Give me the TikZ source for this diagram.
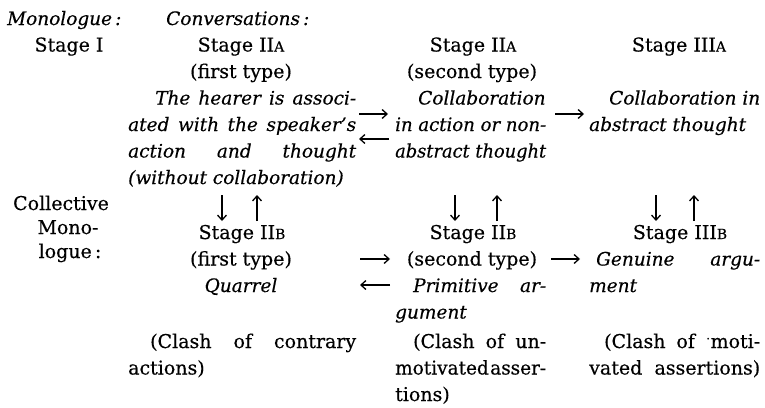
\documentclass[tikz,border=0pt]{standalone}
\usepackage{fontspec}
\usepackage{graphicx}
\setmainfont{DejaVu Serif}[UprightFeatures={FakeBold=0.4},ItalicFeatures={FakeBold=0.4}]
\usetikzlibrary{arrows.meta}
\newcommand\smA{{\fontsize{14}{14}\selectfont A}}
\newcommand\smB{{\fontsize{14}{14}\selectfont B}}
\newlength\fitlen
\newcommand\fitw[2]{\settowidth\fitlen{#2}\ifdim\fitlen>#1pt\resizebox{#1pt}{\height}{#2}\else\makebox[#1pt][s]{#2}\fi}
\tikzset{
  txt/.style={anchor=base west, inner sep=0pt, font=\fontsize{19}{23}\selectfont},
  itx/.style={anchor=base west, inner sep=0pt, font=\fontsize{18.5}{22}\selectfont\itshape},
  ctx/.style={anchor=base, inner sep=0pt, font=\fontsize{19}{23}\selectfont},
  citx/.style={anchor=base, inner sep=0pt, font=\fontsize{18.5}{22}\selectfont\itshape},
  arr/.style={line width=1.5pt, -{Straight Barb[length=5pt,width=9pt,line width=1.3pt]}}
}
\begin{document}
\begin{tikzpicture}[x=1pt,y=-1pt]
\useasboundingbox (0,0) rectangle (765,407);
% headings
\node[itx] (mono) at (7,25) {Monologue\,:};
\node[itx] (conv) at (166,25) {Conversations\,:};
% row 1
\node[ctx] (s1) at (69,51.5) {Stage I};
\node[ctx] (s2a) at (241,51.5) {Stage II\smA};
\node[ctx] (s2a2) at (473,51.5) {Stage II\smA};
\node[ctx] (s3a) at (679,51.5) {Stage III\smA};
% row 2
\node[ctx] (ft1) at (241,78) {(first type)};
\node[ctx] (st1) at (472,78) {(second type)};
% column 2 top block
\node[itx] (a1) at (155,104.5) {\fitw{201}{The hearer is associ-}};
\node[itx] (a2) at (128,131) {\fitw{228}{ated with the speaker's}};
\node[itx] (a3) at (128,157.5) {\fitw{228}{action and thought}};
\node[itx] (a4) at (128,184) {(without collaboration)};
% column 3 top block
\node[itx] (b1) at (418,104.5) {Collaboration};
\node[itx] (b2) at (395,131) {\fitw{151}{in action or non-}};
\node[itx] (b3) at (395,157.5) {\fitw{151}{abstract thought}};
% column 4 top block
\node[itx] (c1) at (609,104.5) {\fitw{151}{Collaboration in}};
\node[itx] (c2) at (589,131) {abstract thought};
% collective monologue
\node[ctx] (cm1) at (61,210) {Collective};
\node[ctx] (cm2) at (68,234) {Mono-};
\node[ctx] (cm3) at (70,258) {logue\,:};
% row 8
\node[ctx] (s2b) at (242,239) {Stage II\smB};
\node[ctx] (s2b2) at (473,239) {Stage II\smB};
\node[ctx] (s3b) at (680,239) {Stage III\smB};
% rows 9-11
\node[ctx] (ft2) at (241,265.5) {(first type)};
\node[ctx] (st2) at (472,265.5) {(second type)};
\node[itx] (g1) at (596,265.5) {\fitw{164}{Genuine argu-}};
\node[citx] (q) at (241,292) {Quarrel};
\node[itx] (p1) at (413,292) {\fitw{133}{Primitive ar-}};
\node[itx] (g2) at (589,292) {ment};
\node[itx] (p2) at (395,318.5) {gument};
% rows 12-14
\node[txt] (k1) at (150,348) {\fitw{206}{(Clash of contrary}};
\node[txt] (k2) at (128,374.5) {actions)};
\node[txt] (l1) at (413,348) {\fitw{133}{(Clash of un-}};
\node[txt] (l2) at (395,374.5) {\fitw{151}{motivated\hspace{1.5pt}asser-}};
\node[txt] (l3) at (395,401) {tions)};
\node[txt] (m1) at (604,348) {\fitw{156}{(Clash of \raisebox{0.45ex}{$\cdot$}moti-}};
\node[txt] (m2) at (589,374.5) {\fitw{171}{vated assertions)}};
% horizontal arrow end points
\coordinate (h1s) at (359,114);  \coordinate (h1e) at (388,114);
\coordinate (h2s) at (389,139);  \coordinate (h2e) at (359,139);
\coordinate (h3s) at (555,114);  \coordinate (h3e) at (584,114);
\coordinate (h4s) at (360,259);  \coordinate (h4e) at (390,259);
\coordinate (h5s) at (390,285);  \coordinate (h5e) at (360,285);
\coordinate (h6s) at (551,259);  \coordinate (h6e) at (580,259);
\draw[arr] (h1s) -- (h1e);
\draw[arr] (h2s) -- (h2e);
\draw[arr] (h3s) -- (h3e);
\draw[arr] (h4s) -- (h4e);
\draw[arr] (h5s) -- (h5e);
\draw[arr] (h6s) -- (h6e);
% vertical arrows
\coordinate (v1s) at (222,195); \coordinate (v1e) at (222,221);
\coordinate (v2s) at (257,221); \coordinate (v2e) at (257,195);
\coordinate (v3s) at (455,195); \coordinate (v3e) at (455,221);
\coordinate (v4s) at (497,221); \coordinate (v4e) at (497,195);
\coordinate (v5s) at (656,195); \coordinate (v5e) at (656,221);
\coordinate (v6s) at (694,221); \coordinate (v6e) at (694,195);
\draw[arr] (v1s) -- (v1e);
\draw[arr] (v2s) -- (v2e);
\draw[arr] (v3s) -- (v3e);
\draw[arr] (v4s) -- (v4e);
\draw[arr] (v5s) -- (v5e);
\draw[arr] (v6s) -- (v6e);
\end{tikzpicture}
\end{document}
